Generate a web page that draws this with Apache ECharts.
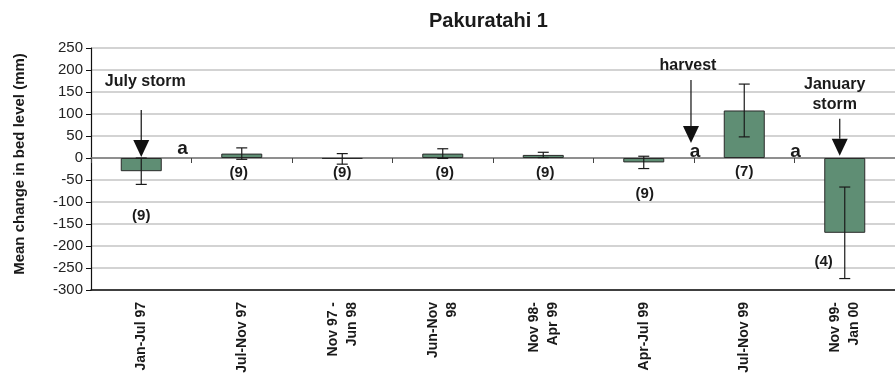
<!DOCTYPE html>
<html><head><meta charset="utf-8">
<script src="https://cdn.jsdelivr.net/npm/echarts@6/dist/echarts.min.js"></script>
<style>html,body{margin:0;padding:0;background:#fff}#c{width:895px;height:381px}</style>
</head><body><div id="c"></div>
<script>
// ---- data ----
const categories = ['Jan-Jul 97', 'Jul-Nov 97', 'Nov 97 -\nJun 98', 'Jun-Nov\n98', 'Nov 98-\nApr 99', 'Apr-Jul 99', 'Jul-Nov 99', 'Nov 99-\nJan 00'];
const meanChange = [-30, 10, -2, 10, 7, -10, 108, -170];
const errorHalf = [30, 13, 12, 11, 6, 14, 60, 104];
const yMin = -300, yMax = 250, yStep = 50;
const countLabels = ['(9)', '(9)', '(9)', '(9)', '(9)', '(9)', '(7)', '(4)'];
const countX = [0, 0.97, 2.0, 3.02, 4.02, 5.01, 6.0, 6.79];
const countY = [-132, -34, -34, -34, -34, -81, -32, -235];
const sigLabels = ['a', 'a', 'a'];
const sigX = [0.41, 5.51, 6.51];
const sigY = [22, 14, 14];
const eventLabels = ['July storm', 'harvest', 'January\nstorm'];
const eventX = [0.04, 5.44, 6.90];
const eventY = [173, 211, 145];
const arrowX = [0, 5.47, 6.95];
const arrowTop = [109, 177, 89];
const arrowTip = [2, 34, 5];

const FONT = '"Liberation Sans", Arial, sans-serif';
const chart = echarts.init(document.getElementById('c'), null, {renderer: 'canvas'});

function textSeries(xs, ys, labels, font, lineHeight) {
  return {
    type: 'custom', xAxisIndex: 2, yAxisIndex: 0, z: 6,
    data: xs.map((x, i) => [x, ys[i]]),
    renderItem: function (params, api) {
      const p = api.coord([api.value(0), api.value(1)]);
      return {
        type: 'text', x: p[0], y: p[1],
        style: {text: labels[params.dataIndex], align: 'center', verticalAlign: 'middle',
                font: font, fill: '#1a1a1a', lineHeight: lineHeight}
      };
    }
  };
}

const option = {
  animation: false,
  textStyle: {fontFamily: FONT},
  title: {
    text: 'Pakuratahi 1', left: 424, top: 6,
    textStyle: {fontSize: 20, fontWeight: 'bold', color: '#1a1a1a', fontFamily: FONT}
  },
  grid: {left: 91, top: 48, width: 807, height: 242, containLabel: false},
  xAxis: [
    {
      type: 'category', data: categories, position: 'bottom',
      axisLine: {onZero: false, lineStyle: {color: '#111', width: 1.5}},
      axisTick: {show: false},
      axisLabel: {interval: 0, rotate: 90, margin: 12, fontSize: 14, fontWeight: 'bold',
                  color: '#1a1a1a', lineHeight: 19, fontFamily: FONT},
      splitLine: {show: false}
    },
    {
      type: 'category', data: categories, position: 'top',
      axisLine: {onZero: true, lineStyle: {color: '#7a7a7a', width: 1.5}},
      axisTick: {show: true, inside: true, length: 5, lineStyle: {color: '#444', width: 1}},
      axisLabel: {show: false},
      splitLine: {show: false}
    },
    {type: 'value', min: -0.5, max: 7.5, show: false, axisLine: {onZero: false}}
  ],
  yAxis: {
    type: 'value', min: yMin, max: yMax, interval: yStep,
    name: 'Mean change in bed level (mm)', nameLocation: 'middle', nameGap: 64,
    nameTextStyle: {fontSize: 15, fontWeight: 'bold', color: '#1a1a1a', fontFamily: FONT, padding: [0, 0, 0, 10]},
    axisLine: {show: true, onZero: false, lineStyle: {color: '#111', width: 1.2}},
    axisTick: {show: true, length: 5, lineStyle: {color: '#111'}},
    axisLabel: {fontSize: 15, color: '#222', margin: 8, fontFamily: FONT},
    splitLine: {show: true, lineStyle: {color: '#c4c4c4', width: 1.5}}
  },
  series: [
    {
      type: 'bar', xAxisIndex: 0, data: meanChange, barWidth: 41, z: 2,
      itemStyle: {color: '#5f8e74', borderColor: '#2a2a2a', borderWidth: 1}
    },
    {
      type: 'custom', xAxisIndex: 0, z: 4,
      data: meanChange.map((v, i) => [i, v, errorHalf[i]]),
      renderItem: function (params, api) {
        const i = api.value(0), v = api.value(1), e = api.value(2);
        const hi = api.coord([i, v + e]), lo = api.coord([i, v - e]);
        const cw = 5.5;
        const st = {stroke: '#1a1a1a', lineWidth: 1.2};
        return {type: 'group', children: [
          {type: 'line', shape: {x1: hi[0], y1: hi[1], x2: lo[0], y2: lo[1]}, style: st},
          {type: 'line', shape: {x1: hi[0] - cw, y1: hi[1], x2: hi[0] + cw, y2: hi[1]}, style: st},
          {type: 'line', shape: {x1: lo[0] - cw, y1: lo[1], x2: lo[0] + cw, y2: lo[1]}, style: st}
        ]};
      }
    },
    {
      type: 'custom', xAxisIndex: 2, z: 5,
      data: arrowX.map((x, i) => [x, arrowTop[i], arrowTip[i]]),
      renderItem: function (params, api) {
        const x = api.value(0);
        const top = api.coord([x, api.value(1)]), tip = api.coord([x, api.value(2)]);
        const hw = 8, hh = 17;
        return {type: 'group', children: [
          {type: 'line', shape: {x1: top[0], y1: top[1], x2: tip[0], y2: tip[1] - hh},
           style: {stroke: '#222', lineWidth: 1.3}},
          {type: 'polygon', shape: {points: [[tip[0] - hw, tip[1] - hh], [tip[0] + hw, tip[1] - hh], [tip[0], tip[1]]]},
           style: {fill: '#111'}}
        ]};
      }
    },
    textSeries(countX, countY, countLabels, 'bold 15px ' + FONT, 18),
    textSeries(sigX, sigY, sigLabels, 'bold 19px ' + FONT, 20),
    textSeries(eventX, eventY, eventLabels, 'bold 16px ' + FONT, 20)
  ]
};
chart.setOption(option);
</script></body></html>
